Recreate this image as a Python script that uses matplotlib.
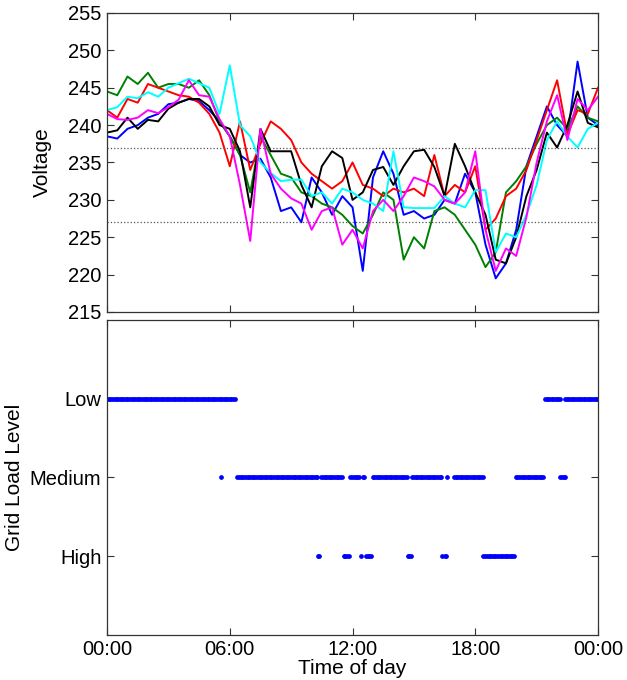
import numpy as np
import matplotlib
matplotlib.use("Agg")
import matplotlib.pyplot as plt

plt.rcParams['font.family'] = ['Liberation Sans', 'DejaVu Sans']

# half-hour readings of the six voltage traces (hours 0..24)
hours = np.arange(0, 24.01, 0.5)

v_blue = [238.5, 238.2, 239.5, 240.0, 241.0, 241.5, 242.8, 243.0, 243.5, 243.2,
          242.0, 240.5, 238.5, 236.0, 235.0, 235.5, 233.0, 228.5, 229.0, 227.0,
          233.0, 231.0, 228.0, 230.5, 229.0, 220.5, 233.0, 236.5, 233.5, 228.0,
          228.5, 227.5, 228.0, 230.0, 229.5, 233.5, 231.0, 224.0, 219.5, 221.5,
          226.0, 234.5, 238.5, 242.5, 240.0, 238.5, 248.5, 241.0, 240.0]
v_green = [244.5, 244.0, 246.5, 245.5, 247.0, 245.0, 245.5, 245.5, 245.0, 246.0,
           244.0, 240.5, 238.5, 236.0, 231.0, 238.5, 236.0, 233.5, 233.0, 231.0,
           230.5, 229.5, 229.0, 228.0, 226.5, 225.5, 228.0, 231.0, 230.0, 222.0,
           225.0, 223.5, 228.5, 229.0, 228.0, 226.0, 224.0, 221.0, 223.0, 231.0,
           232.5, 234.5, 237.5, 240.0, 241.0, 239.5, 242.5, 241.0, 240.5]
v_red = [242.0, 241.0, 243.5, 243.0, 245.5, 245.0, 244.5, 244.0, 243.8, 243.0,
         241.5, 239.0, 234.5, 240.5, 234.0, 237.5, 240.5, 239.5, 238.0, 235.0,
         233.5, 232.5, 231.5, 232.5, 235.0, 232.0, 231.5, 230.5, 231.5, 231.0,
         231.5, 230.5, 236.0, 230.5, 232.0, 231.0, 234.5, 226.0, 227.5, 230.5,
         231.5, 234.0, 238.0, 242.0, 246.0, 238.7, 242.0, 241.5, 245.0]
v_black = [239.0, 239.3, 241.0, 239.5, 240.7, 240.5, 242.2, 243.0, 243.5, 243.5,
           242.5, 240.0, 239.5, 236.5, 229.0, 239.5, 236.5, 236.5, 236.5, 232.0,
           229.0, 234.5, 236.5, 235.6, 230.0, 231.0, 234.0, 234.4, 232.0, 234.5,
           236.5, 236.7, 234.4, 230.5, 237.5, 234.5, 231.0, 228.0, 222.0, 221.5,
           225.0, 230.5, 234.0, 239.0, 237.0, 240.0, 244.5, 240.3, 239.7]
v_cyan = [242.0, 242.4, 243.8, 243.6, 244.4, 243.8, 245.0, 245.6, 246.2, 245.6,
          245.0, 241.5, 248.0, 240.0, 238.5, 235.0, 233.6, 232.5, 232.7, 232.7,
          230.5, 231.0, 229.5, 231.5, 231.0, 230.0, 229.5, 228.5, 236.5, 229.0,
          228.9, 228.9, 228.9, 230.5, 229.5, 229.0, 231.3, 231.3, 223.0, 225.5,
          225.0, 228.0, 232.0, 238.0, 240.5, 238.5, 237.0, 239.5, 240.3]
v_magenta = [241.5, 240.8, 240.7, 241.0, 242.0, 241.6, 242.4, 243.4, 246.0, 244.0,
             243.8, 240.8, 238.5, 232.0, 224.5, 239.5, 233.5, 231.5, 230.2, 229.5,
             226.0, 228.5, 229.0, 224.0, 226.0, 223.5, 228.5, 230.0, 228.5, 230.5,
             233.0, 232.5, 231.8, 230.0, 229.5, 231.0, 236.5, 226.0, 220.5, 223.5,
             222.5, 227.7, 235.0, 240.5, 244.0, 238.0, 243.5, 242.0, 243.8]

series = [(v_blue, 'blue'), (v_green, 'green'), (v_red, 'red'),
          (v_black, 'black'), (v_cyan, 'cyan'), (v_magenta, 'magenta')]

limits = [237, 227]

# grid load level: (start hour, end hour) spans, 5-minute samples
level_names = ['High', 'Medium', 'Low']
low_spans = [(0, 6.33), (21.4, 22.15), (22.38, 24)]
medium_spans = [(5.55, 5.55), (6.37, 10.3), (10.47, 11.55), (11.9, 12.35),
                (12.5, 12.62), (12.98, 14.68), (14.92, 16.35), (16.62, 16.68),
                (16.95, 18.38), (19.98, 21.38), (22.15, 22.4)]
high_spans = [(10.3, 10.45), (11.57, 11.88), (12.4, 12.45), (12.65, 12.95),
              (14.7, 14.9), (16.37, 16.42), (16.5, 16.6), (18.4, 19.95)]

fig = plt.figure(figsize=(6.27, 6.8), dpi=100)
ax1 = fig.add_axes([0.1707, 0.5412, 0.7831, 0.4397])
ax2 = fig.add_axes([0.1707, 0.0669, 0.7831, 0.4618])

for vals, col in series:
    ax1.plot(hours, vals, color=col, lw=1.4)
for lim in limits:
    ax1.axhline(lim, color='#555555', ls=':', lw=0.9)

ax1.set_xlim(0, 24)
ax1.set_ylim(215, 255)
ax1.set_yticks(np.arange(215, 256, 5))
ax1.set_xticks([0, 6, 12, 18, 24])
ax1.set_xticklabels([])
ax1.set_ylabel('Voltage', fontsize=15)
ax1.yaxis.set_label_coords(-0.112, 0.5)

for spans, lvl in [(low_spans, 3), (medium_spans, 2), (high_spans, 1)]:
    t = np.concatenate([np.arange(a, b + 1e-6, 1 / 12.0) for a, b in spans])
    ax2.plot(t, np.full(len(t), lvl), ls='none', marker='o', ms=2.4,
             color='blue', mec='blue')

ax2.set_xlim(0, 24)
ax2.set_ylim(0, 4)
ax2.set_yticks([1, 2, 3])
ax2.set_yticklabels(level_names)
ax2.set_xticks([0, 6, 12, 18, 24])
ax2.set_xticklabels(['00:00', '06:00', '12:00', '18:00', '00:00'])
ax2.set_xlabel('Time of day', fontsize=15, labelpad=0)
ax2.set_ylabel('Grid Load Level', fontsize=15)
ax2.yaxis.set_label_coords(-0.169, 0.5)

for ax in (ax1, ax2):
    ax.tick_params(direction='in', top=True, right=True, labelsize=14.5,
                   length=5, width=0.8, color='#333333', pad=4)
    for sp in ax.spines.values():
        sp.set_color('#333333')
        sp.set_linewidth(0.9)

fig.savefig('out.png', dpi=100)
